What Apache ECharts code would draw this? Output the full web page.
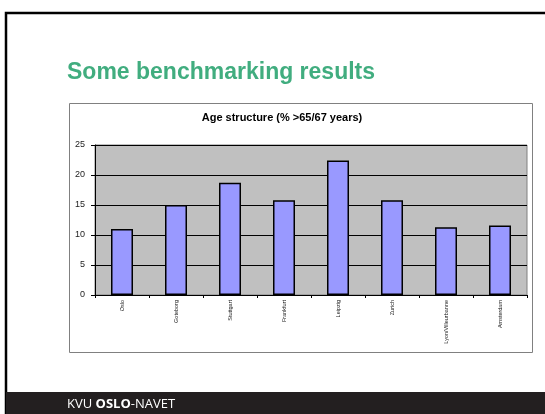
<!DOCTYPE html>
<html>
<head>
<meta charset="utf-8">
<script src="https://cdn.jsdelivr.net/npm/echarts@6/dist/echarts.min.js"></script>
<style>
  html, body { margin: 0; padding: 0; background: #fff; }
  #chart { width: 545px; height: 414px; }
</style>
</head>
<body>
<div id="chart"></div>
<script>
// cities and share of population over 65/67 (%)
var cities = ['Oslo', 'Goteborg', 'Stuttgart', 'Frankfurt', 'Leipzig', 'Zurich', 'Lyon/Villeurbanne', 'Amsterdam'];
var ageShare = [11.0, 15.0, 18.7, 15.8, 22.4, 15.8, 11.3, 11.6];
var yTicks = [0, 5, 10, 15, 20, 25];

var chart = echarts.init(document.getElementById('chart'));

chart.setOption({
    animation: false,
    backgroundColor: '#fff',
    title: [{
        text: 'Some benchmarking results',
        left: 62, top: 56,
        textStyle: { fontFamily: 'Liberation Sans', fontWeight: 'bold', fontSize: 23, color: '#41ad7f' }
    }, {
        text: 'Age structure (% >65/67 years)',
        left: 277, top: 107, textAlign: 'center',
        textStyle: { fontFamily: 'Liberation Sans', fontWeight: 'bold', fontSize: 11, color: '#000' }
    }],
    graphic: [
        // slide frame
        { type: 'rect', shape: { x: 6, y: 13, width: 545, height: 420 }, style: { fill: 'none', stroke: '#000', lineWidth: 2.5 }, z: 10 },
        // chart box
        { type: 'rect', shape: { x: 69.5, y: 103.5, width: 463, height: 249 }, style: { fill: 'none', stroke: '#808080', lineWidth: 1 } },
        // footer band
        { type: 'rect', shape: { x: 6, y: 392, width: 545, height: 22 }, style: { fill: '#231f20' }, z: 11 },
        {
            type: 'text', left: 67, top: 398, z: 12,
            style: {
                text: '{a|KVU }{b|OSLO}{a|-NAVET}',
                rich: {
                    a: { fontFamily: 'Open Sans', fontSize: 13, fill: '#fff' },
                    b: { fontFamily: 'Open Sans', fontSize: 13, fontWeight: 'bold', fill: '#fff' }
                }
            }
        }
    ],
    grid: {
        left: 95, right: 18, top: 145, bottom: 119,
        show: true, backgroundColor: '#c0c0c0', borderColor: '#808080', borderWidth: 1
    },
    xAxis: {
        type: 'category',
        data: cities,
        axisLine: { lineStyle: { color: '#000', width: 1 } },
        axisTick: { show: true, length: 3, lineStyle: { color: '#000' } },
        axisLabel: { rotate: 90, fontSize: 5.5, fontFamily: 'Liberation Sans', color: '#222', margin: 5 }
    },
    yAxis: {
        type: 'value',
        min: yTicks[0], max: yTicks[yTicks.length - 1], interval: 5,
        axisLine: { show: true, lineStyle: { color: '#000' } },
        axisTick: { show: true, length: 4, lineStyle: { color: '#000' } },
        axisLabel: { fontSize: 9, fontFamily: 'Liberation Sans', color: '#222', margin: 10 },
        splitLine: { show: true, lineStyle: { color: '#000', width: 1 } }
    },
    series: [{
        type: 'bar',
        data: ageShare,
        barWidth: 22,
        itemStyle: { color: '#9999ff', borderColor: '#000', borderWidth: 1.5 }
    }]
});
</script>
</body>
</html>
